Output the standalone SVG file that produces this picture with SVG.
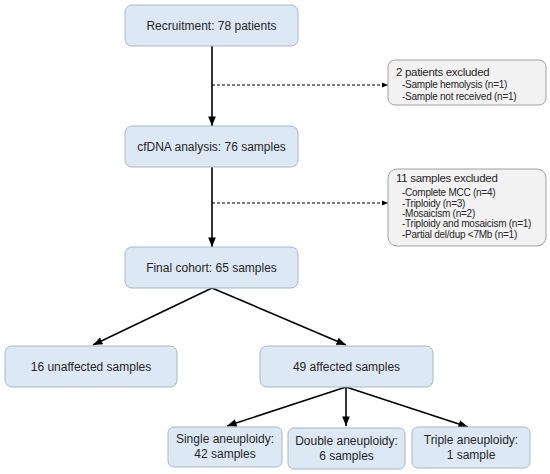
<svg xmlns="http://www.w3.org/2000/svg" width="550" height="474" viewBox="0 0 550 474">
<defs>
<marker id="ah" viewBox="0 0 10 10" refX="10" refY="5" markerWidth="6" markerHeight="6" orient="auto"><path d="M0,1 L10,5 L0,9 z" fill="#000"/></marker>
<style>
.b{fill:#dde8f5;stroke:#a9b6c6;stroke-width:1}
.g{fill:#f2f2f2;stroke:#a0a0a0;stroke-width:1}
.t{font-family:"Liberation Sans",Arial,sans-serif;font-size:12px;fill:#262626;text-anchor:middle}
.e{font-family:"Liberation Sans",Arial,sans-serif;font-size:11.5px;fill:#262626;letter-spacing:-0.3px}
.s{font-family:"Liberation Sans",Arial,sans-serif;font-size:10px;fill:#262626;letter-spacing:-0.25px}
.c{stroke:#000;stroke-width:1.6;fill:none;marker-end:url(#ah)}
.d{stroke:#000;stroke-width:1;fill:none;stroke-dasharray:3,2;marker-end:url(#ah)}
</style>
</defs>
<g id="connectors">
<path class="c" d="M212,46 V126"/>
<path class="d" d="M212,85 H388"/>
<path class="c" d="M212,167 V247"/>
<path class="d" d="M212,203 H388"/>
<path class="c" d="M212,288 L93,345"/>
<path class="c" d="M212,288 L346,345"/>
<path class="c" d="M346,387 L227,426"/>
<path class="c" d="M346,387 V426"/>
<path class="c" d="M346,387 L468,427"/>
</g>
<g id="recruitment"><rect class="b" x="125" y="5" width="173" height="41" rx="7"/><text class="t" x="211.5" y="29.5">Recruitment: 78 patients</text></g>
<g id="excluded1"><rect class="g" x="388" y="60" width="158" height="45" rx="7"/><text class="e" x="396" y="76">2 patients excluded</text><text class="s" x="402" y="88">-Sample hemolysis (n=1)</text><text class="s" x="402" y="100">-Sample not received (n=1)</text></g>
<g id="cfdna"><rect class="b" x="125" y="126" width="173" height="41" rx="7"/><text class="t" x="211.5" y="150.5">cfDNA analysis: 76 samples</text></g>
<g id="excluded2"><rect class="g" x="388" y="169" width="158" height="77" rx="9"/><text class="e" x="396" y="182">11 samples excluded</text><text class="s" x="402" y="196">-Complete MCC (n=4)</text><text class="s" x="402" y="207">-Triploidy (n=3)</text><text class="s" x="402" y="217">-Mosaicism (n=2)</text><text class="s" x="402" y="227">-Triploidy and mosaicism (n=1)</text><text class="s" x="402" y="238">-Partial del/dup &lt;7Mb (n=1)</text></g>
<g id="final"><rect class="b" x="125" y="247" width="173" height="41" rx="7"/><text class="t" x="211.5" y="271.5">Final cohort: 65 samples</text></g>
<g id="unaffected"><rect class="b" x="5" y="346" width="172" height="41" rx="7"/><text class="t" x="91" y="370.5">16 unaffected samples</text></g>
<g id="affected"><rect class="b" x="260" y="346" width="173" height="41" rx="7"/><text class="t" x="346.5" y="370.5">49 affected samples</text></g>
<g id="single"><rect class="b" x="168" y="427" width="114" height="40" rx="6"/><text class="t" x="225" y="443">Single aneuploidy:</text><text class="t" x="225" y="458">42 samples</text></g>
<g id="double"><rect class="b" x="288" y="428" width="117" height="41" rx="6"/><text class="t" x="346.5" y="445">Double aneuploidy:</text><text class="t" x="346.5" y="460">6 samples</text></g>
<g id="triple"><rect class="b" x="412" y="427" width="118" height="41" rx="6"/><text class="t" x="471" y="444">Triple aneuploidy:</text><text class="t" x="471" y="459">1 sample</text></g>
</svg>
